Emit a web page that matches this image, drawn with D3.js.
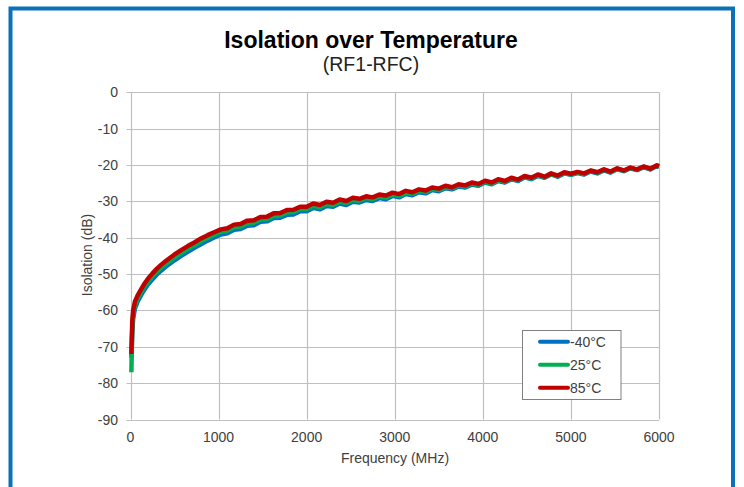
<!DOCTYPE html>
<html>
<head>
<meta charset="utf-8">
<script src="https://d3js.org/d3.v7.min.js"></script>
<style>
    body { margin: 0; background: #fff; }
    text { font-family: Arial, "Liberation Sans", sans-serif; }
</style>
</head>
<body>
<script>
//sweep frequencies (MHz)
var freq = [10, 20, 30, 50, 80, 120, 160, 200, 250, 300, 350, 400, 450, 500, 575, 650, 725, 800, 875, 950,
    1025, 1100, 1175, 1250, 1325, 1400, 1475, 1550, 1625, 1700, 1775, 1850, 1925, 2000, 2075, 2150, 2225,
    2300, 2375, 2450, 2525, 2600, 2675, 2750, 2825, 2900, 2975, 3050, 3125, 3200, 3275, 3350, 3425, 3500,
    3575, 3650, 3725, 3800, 3875, 3950, 4025, 4100, 4175, 4250, 4325, 4400, 4475, 4550, 4625, 4700, 4775,
    4850, 4925, 5000, 5075, 5150, 5225, 5300, 5375, 5450, 5525, 5600, 5675, 5750, 5825, 5900, 5975, 6000];

//isolation at -40C (dB)
var isoCold = [-73.0, -66.0, -62.3, -59.5, -57.6, -55.8, -54.2, -52.8, -51.4, -50.1, -49.0, -48.0, -47.1, -46.2, -45.0, -43.9, -42.8, -41.8, -40.8, -39.9,
    -39.1, -38.8, -37.8, -37.6, -36.7, -36.6, -35.6, -35.5, -34.6, -34.5, -33.7, -33.6, -32.7, -32.7, -31.8, -32.2, -31.3,
    -31.5, -30.6, -31.0, -30.1, -30.3, -29.6, -29.9, -29.1, -29.4, -28.5, -28.9, -28.0, -28.3, -27.5, -27.8, -26.9, -27.2,
    -26.4, -26.7, -25.9, -26.2, -25.4, -25.7, -24.8, -25.3, -24.4, -24.8, -23.9, -24.4, -23.4, -23.9, -23.0, -23.5, -22.6,
    -23.2, -22.3, -22.7, -22.2, -22.6, -21.8, -22.3, -21.5, -22.1, -21.1, -21.7, -20.9, -21.4, -20.6, -21.2, -20.3, -20.5];

//isolation at 25C (dB)
var isoRoom = [-77.0, -64.5, -61.0, -58.5, -56.8, -55.0, -53.4, -52.0, -50.6, -49.3, -48.2, -47.2, -46.3, -45.4, -44.2, -43.1, -42.1, -41.0, -40.1, -39.2,
    -38.4, -38.1, -37.1, -36.9, -36.0, -35.9, -35.0, -34.9, -34.0, -33.9, -33.0, -32.9, -32.1, -32.1, -31.2, -31.6, -30.7,
    -31.0, -30.1, -30.4, -29.6, -29.8, -29.1, -29.4, -28.6, -28.9, -28.1, -28.5, -27.6, -27.9, -27.1, -27.4, -26.6, -26.9,
    -26.1, -26.4, -25.6, -25.9, -25.1, -25.5, -24.6, -25.1, -24.2, -24.6, -23.7, -24.2, -23.2, -23.7, -22.8, -23.4, -22.5,
    -23.1, -22.2, -22.6, -22.1, -22.5, -21.6, -22.1, -21.3, -21.9, -21.0, -21.6, -20.8, -21.3, -20.5, -21.1, -20.2, -20.4];

//isolation at 85C (dB)
var isoHot = [-72.0, -63.0, -60.0, -57.6, -55.9, -54.2, -52.6, -51.2, -49.8, -48.5, -47.4, -46.4, -45.5, -44.6, -43.4, -42.3, -41.3, -40.2, -39.3, -38.5,
    -37.7, -37.4, -36.4, -36.2, -35.3, -35.2, -34.3, -34.2, -33.3, -33.2, -32.4, -32.3, -31.5, -31.5, -30.6, -31.0, -30.1,
    -30.4, -29.5, -29.9, -29.0, -29.3, -28.6, -28.9, -28.1, -28.4, -27.6, -28.0, -27.1, -27.5, -26.7, -27.0, -26.2, -26.5,
    -25.7, -26.1, -25.3, -25.6, -24.8, -25.2, -24.3, -24.8, -23.9, -24.4, -23.5, -24.0, -23.0, -23.5, -22.6, -23.2, -22.3,
    -22.9, -22.0, -22.4, -21.9, -22.3, -21.5, -22.0, -21.2, -21.8, -20.9, -21.5, -20.7, -21.2, -20.4, -21.0, -20.1, -20.3];

var seriesNames = ["-40°C", "25°C", "85°C"];
var seriesColors = ["#0070C0", "#00B050", "#C00000"];
var xTicks = [0, 1000, 2000, 3000, 4000, 5000, 6000];
var yTicks = [0, -10, -20, -30, -40, -50, -60, -70, -80, -90];

window.onload = drawChart();

function drawChart() {
    var width = 744,
        height = 487;

    var svg = d3.select("body")
        .append("svg")
        .attr("width", width)
        .attr("height", height);

    //blue frame round the figure
    svg.append("rect")
        .attr("x", 10.5)
        .attr("y", 8.5)
        .attr("width", 722.5)
        .attr("height", 490)
        .attr("fill", "none")
        .attr("stroke", "#0B72BA")
        .attr("stroke-width", 4);

    //plot area
    var x = d3.scaleLinear().domain([0, 6000]).range([130.5, 659]);
    var y = d3.scaleLinear().domain([-90, 0]).range([419.5, 92.3]);

    var grid = svg.append("g").attr("class", "grid");

    grid.selectAll(".hgrid")
        .data(yTicks)
        .enter()
        .append("line")
        .attr("class", "hgrid")
        .attr("x1", x(0) - 4)
        .attr("x2", x(6000))
        .attr("y1", function(d){ return Math.round(y(d)) + 0.5; })
        .attr("y2", function(d){ return Math.round(y(d)) + 0.5; })
        .attr("stroke", "#BFBFBF")
        .attr("stroke-width", 1.2);

    grid.selectAll(".vgrid")
        .data(xTicks)
        .enter()
        .append("line")
        .attr("class", "vgrid")
        .attr("x1", function(d){ return Math.round(x(d)) + 0.5; })
        .attr("x2", function(d){ return Math.round(x(d)) + 0.5; })
        .attr("y1", y(0))
        .attr("y2", y(-90))
        .attr("stroke", "#BFBFBF")
        .attr("stroke-width", 1.2);

    //tick labels
    svg.selectAll(".ylab")
        .data(yTicks)
        .enter()
        .append("text")
        .attr("class", "ylab")
        .attr("x", 118)
        .attr("y", function(d){ return y(d) + 5; })
        .attr("text-anchor", "end")
        .attr("font-size", 14)
        .attr("fill", "#404040")
        .text(function(d){ return d; });

    svg.selectAll(".xlab")
        .data(xTicks)
        .enter()
        .append("text")
        .attr("class", "xlab")
        .attr("x", function(d){ return x(d); })
        .attr("y", 441.5)
        .attr("text-anchor", "middle")
        .attr("font-size", 14)
        .attr("fill", "#404040")
        .text(function(d){ return d; });

    //titles
    svg.append("text")
        .attr("x", 371)
        .attr("y", 48)
        .attr("text-anchor", "middle")
        .attr("font-size", 23)
        .attr("font-weight", "bold")
        .attr("fill", "#000")
        .text("Isolation over Temperature");

    svg.append("text")
        .attr("x", 371)
        .attr("y", 70.5)
        .attr("text-anchor", "middle")
        .attr("font-size", 19.5)
        .attr("fill", "#222")
        .text("(RF1-RFC)");

    svg.append("text")
        .attr("x", 395)
        .attr("y", 463)
        .attr("text-anchor", "middle")
        .attr("font-size", 14)
        .attr("fill", "#404040")
        .text("Frequency (MHz)");

    svg.append("text")
        .attr("transform", "translate(92,255) rotate(-90)")
        .attr("text-anchor", "middle")
        .attr("font-size", 14)
        .attr("fill", "#404040")
        .text("Isolation (dB)");

    //curves
    var allSeries = [isoCold, isoRoom, isoHot];

    var line = d3.line()
        .x(function(d, i){ return x(freq[i]); })
        .y(function(d){ return y(d); });

    svg.selectAll(".curve")
        .data(allSeries)
        .enter()
        .append("path")
        .attr("class", "curve")
        .attr("d", line)
        .attr("fill", "none")
        .attr("stroke", function(d, i){ return seriesColors[i]; })
        .attr("stroke-width", 4.5)
        .attr("stroke-linejoin", "round");

    //legend
    var legend = svg.append("g").attr("class", "legend");

    legend.append("rect")
        .attr("x", 522.5)
        .attr("y", 330.5)
        .attr("width", 98.5)
        .attr("height", 69)
        .attr("fill", "#fff")
        .attr("stroke", "#808080")
        .attr("stroke-width", 1);

    var rows = legend.selectAll(".row")
        .data(seriesNames)
        .enter()
        .append("g")
        .attr("class", "row")
        .attr("transform", function(d, i){ return "translate(0," + (341.7 + i * 23) + ")"; });

    rows.append("line")
        .attr("x1", 540)
        .attr("x2", 568)
        .attr("stroke", function(d, i){ return seriesColors[i]; })
        .attr("stroke-width", 4)
        .attr("stroke-linecap", "round");

    rows.append("text")
        .attr("x", 570)
        .attr("y", 5)
        .attr("font-size", 14)
        .attr("fill", "#404040")
        .text(function(d){ return d; });
}
</script>
</body>
</html>
